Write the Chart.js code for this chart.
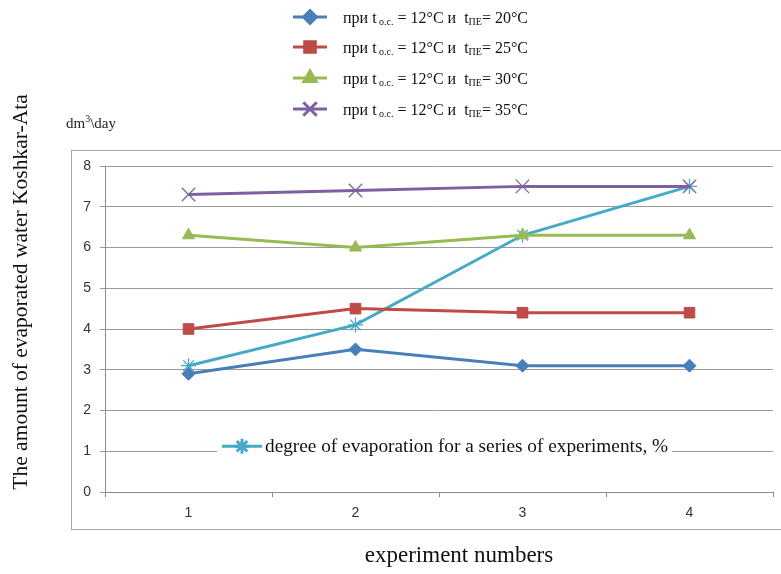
<!DOCTYPE html>
<html>
<head>
<meta charset="utf-8">
<script src="https://cdn.jsdelivr.net/npm/chart.js@4.4.1/dist/chart.umd.min.js"></script>
<style>
  html, body { margin: 0; padding: 0; background: #fff; }
  #wrap { width: 781px; height: 574px; position: relative; }
</style>
</head>
<body>
<div id="wrap"><canvas id="evapChart"></canvas></div>
<script>
// данные с графика
const experiments = ['1', '2', '3', '4'];
const peTemps = ['20°C', '25°C', '30°C', '35°C'];
const series20 = [2.9, 3.5, 3.1, 3.1];
const series25 = [4.0, 4.5, 4.4, 4.4];
const series30 = [6.3, 6.0, 6.3, 6.3];
const series35 = [7.3, 7.4, 7.5, 7.5];
const evapDegree = [3.1, 4.1, 6.3, 7.5];
const yTicks = [0, 1, 2, 3, 4, 5, 6, 7, 8];

const evapLabel = 'degree of evaporation for a series of experiments, %';
const yTitle = 'The amount of evaporated water Koshkar-Ata';
const xTitle = 'experiment numbers';

const colors = ['#4A7EBB', '#BE4B48', '#98B954', '#7D60A0', '#46AAC5'];
const styles = ['rectRot', 'rect', 'triangle', 'crossRot', 'star'];
const radii = [6.5, 7.5, 7, 9.5, 7.5];

function isThin(i) {
    return styles[i] === 'crossRot' || styles[i] === 'star';
}

function makeSet(label, data, i) {
    return {
        label: label,
        data: data,
        borderColor: colors[i],
        backgroundColor: colors[i],
        borderWidth: 3,
        pointStyle: styles[i],
        pointRadius: radii[i],
        pointBorderWidth: isThin(i) ? 1.3 : 1,
        pointBackgroundColor: colors[i],
        pointBorderColor: colors[i],
        tension: 0
    };
}

const datasets = [series20, series25, series30, series35].map((d, i) =>
    makeSet('при t o.c. = 12°C и tПЕ= ' + peTemps[i], d, i));
datasets.push(makeSet(evapLabel, evapDegree, 4));

const serif = '"Liberation Serif", "DejaVu Serif", serif';

function drawMarker(ctx, i, x, y) {
    Chart.helpers.drawPoint(ctx, {
        pointStyle: styles[i],
        radius: radii[i],
        borderWidth: isThin(i) ? 1.3 : 1,
        rotation: 0
    }, x, y);
}

// рамка, подписи осей и легенды рисуем сами
const decorPlugin = {
    id: 'decor',
    beforeDraw(chart) {
        const ctx = chart.ctx;
        ctx.save();
        ctx.fillStyle = '#fff';
        ctx.fillRect(0, 0, chart.width, chart.height);
        ctx.strokeStyle = '#a6a6a6';
        ctx.lineWidth = 1;
        ctx.strokeRect(71.5, 150.5, 720, 379);
        ctx.restore();
    },
    afterDraw(chart) {
        const ctx = chart.ctx;
        const ys = chart.scales.y;
        ctx.save();

        // верхняя легенда
        const rows = [17, 47, 78, 109];
        peTemps.forEach((t, i) => {
            const y = rows[i];
            ctx.strokeStyle = colors[i];
            ctx.fillStyle = colors[i];
            ctx.lineWidth = 3;
            ctx.beginPath();
            ctx.moveTo(293, y);
            ctx.lineTo(327, y);
            ctx.stroke();
            drawMarker(ctx, i, 310, y);

            ctx.fillStyle = '#111';
            ctx.textBaseline = 'middle';
            let x = 343;
            const ty = y + 2;
            const parts = [
                ['при t', 16, 0],
                [' o.c.', 10, 3],
                [' = 12°C и  t', 16, 0],
                ['ПЕ', 10, 3],
                ['= ' + t, 16, 0]
            ];
            parts.forEach(p => {
                ctx.font = p[1] + 'px ' + serif;
                ctx.fillText(p[0], x, ty + p[2]);
                x += ctx.measureText(p[0]).width;
            });
        });

        // dm3\day
        ctx.fillStyle = '#222';
        ctx.textBaseline = 'middle';
        ctx.font = '15px ' + serif;
        let dx = 66;
        ctx.fillText('dm', dx, 124);
        dx += ctx.measureText('dm').width;
        ctx.font = '10px ' + serif;
        ctx.fillText('3', dx, 119);
        dx += ctx.measureText('3').width;
        ctx.font = '15px ' + serif;
        ctx.fillText('\\day', dx, 124);

        // подпись оси Y
        ctx.save();
        ctx.translate(21, 292);
        ctx.rotate(-Math.PI / 2);
        ctx.font = '21.5px ' + serif;
        ctx.textAlign = 'center';
        ctx.fillStyle = '#111';
        ctx.fillText(yTitle, 0, 0);
        ctx.restore();

        // подпись оси X
        ctx.font = '23px ' + serif;
        ctx.textAlign = 'center';
        ctx.fillStyle = '#111';
        ctx.fillText(xTitle, 459, 556);

        // легенда внутри графика
        const ly = ys.getPixelForValue(1) - 5;
        ctx.fillStyle = '#fff';
        ctx.fillRect(217, ly - 11, 455, 20);
        ctx.strokeStyle = colors[4];
        ctx.lineWidth = 3;
        ctx.beginPath();
        ctx.moveTo(222, ly);
        ctx.lineTo(262, ly);
        ctx.stroke();
        drawMarker(ctx, 4, 242, ly);
        ctx.textAlign = 'left';
        ctx.fillStyle = '#111';
        ctx.font = '19.3px ' + serif;
        ctx.fillText(evapLabel, 265, ly + 1);

        ctx.restore();
    }
};

new Chart(document.getElementById('evapChart'), {
    type: 'line',
    data: { labels: experiments, datasets: datasets },
    options: {
        responsive: true,
        maintainAspectRatio: false,
        animation: false,
        layout: {
            autoPadding: false,
            padding: { top: 166, right: 8, left: 0, bottom: 0 }
        },
        plugins: {
            legend: { display: false },
            tooltip: { enabled: false }
        },
        scales: {
            x: {
                offset: true,
                afterFit(scale) { scale.height = 82; },
                grid: {
                    offset: true,
                    drawOnChartArea: false,
                    drawTicks: true,
                    tickLength: 5,
                    color: '#8c8c8c'
                },
                border: { color: '#8c8c8c', width: 1 },
                ticks: {
                    padding: 8,
                    color: '#333',
                    font: { family: '"Liberation Sans", Arial, sans-serif', size: 14 }
                }
            },
            y: {
                min: 0,
                max: 8,
                afterFit(scale) { scale.width = 105; },
                afterBuildTicks(scale) { scale.ticks = yTicks.map(v => ({ value: v })); },
                grid: {
                    color: '#9a9a9a',
                    tickLength: 5,
                    drawTicks: true
                },
                border: { color: '#8c8c8c', width: 1 },
                ticks: {
                    padding: 9,
                    color: '#333',
                    font: { family: '"Liberation Sans", Arial, sans-serif', size: 14 }
                }
            }
        }
    },
    plugins: [decorPlugin]
});
</script>
</body>
</html>
